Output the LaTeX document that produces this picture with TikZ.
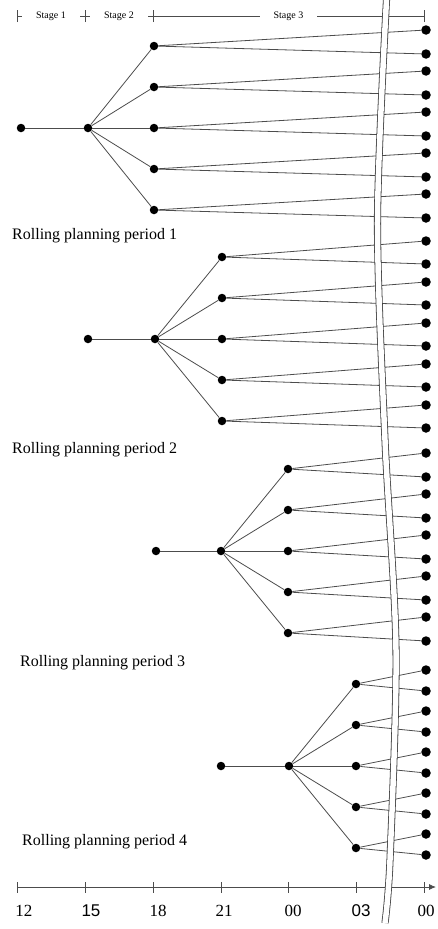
\documentclass[tikz,border=0pt]{standalone}
\usepackage{fontspec}
\setmainfont{Liberation Serif}
\setsansfont{Liberation Sans}
\usetikzlibrary{arrows.meta}

\begin{document}
\begin{tikzpicture}[x=1pt,y=-1pt]

\tikzset{vertex/.style = {shape=circle,fill,inner sep=0pt,minimum size=8.5pt}}
\tikzset{leaf/.style = {shape=circle,fill,inner sep=0pt,minimum size=9.5pt}}
\tikzset{edge/.style = {draw=black!70,line width=0.8pt}}
\tikzset{stagelbl/.style = {fill=white,inner xsep=14pt,inner ysep=1pt,font=\fontsize{10}{12}\selectfont}}
\tikzset{period/.style = {anchor=west,inner sep=0pt,font=\fontsize{16}{19}\selectfont}}
\tikzset{ticklbl/.style = {inner sep=0pt,font=\fontsize{17}{20}\selectfont}}

\useasboundingbox (0,0) rectangle (437,929);

%stages
\coordinate (s0) at (17,16);
\coordinate (s1) at (85,16);
\coordinate (s2) at (153,16);
\coordinate (s3) at (424,16);
\draw[edge] (s0) -- node[stagelbl] (st1) {Stage 1} (s1);
\draw[edge] (s1) -- node[stagelbl] (st2) {Stage 2} (s2);
\draw[edge] (s2) -- node[stagelbl] (st3) {Stage 3} (s3);
\foreach \s in {s0,s1,s2,s3}
  \draw[edge] ([yshift=-6pt]\s) -- ([yshift=6pt]\s);

%time axis
\coordinate (a0) at (17,887);
\coordinate (a1) at (436,887);
\draw[edge,-{Latex[length=7pt,width=6pt]}] (a0) -- (a1);
\foreach \x/\lx/\t [count=\i] in {17/24/12, 85/91/{\sffamily 15}, 153/158/18, 221/224/21, 288/293/00, 356/361/{\sffamily 03}, 424/426/00} {
  \draw[edge] (\x,882) -- (\x,893);
  \node[ticklbl] (t\i) at (\lx,911) {\t};
}

%trees
\foreach \p/\ra/\rb/\rc/\y/\up/\dw/\lx/\ly in {1/21/88/154/128/16/8/12/236, 2/88/155/222/339/16/7/12/450, 3/156/221/288/551/16/8/20/663, 4/221/289/356/766/14/7/22/842} {
  \node[vertex] (r\p) at (\ra,\y) {};
  \node[vertex] (m\p) at (\rb,\y) {};
  \draw[edge] (r\p) -- (m\p);
  \foreach \k in {1,...,5} {
    \pgfmathsetmacro{\cy}{\y+41*(\k-3)}
    \node[vertex] (c\p\k) at (\rc,\cy) {};
    \node[leaf] (u\p\k) at (426,\cy-\up) {};
    \node[leaf] (d\p\k) at (426,\cy+\dw) {};
    \draw[edge] (m\p) -- (c\p\k);
    \draw[edge] (c\p\k) -- (u\p\k);
    \draw[edge] (c\p\k) -- (d\p\k);
  }
  \node[period] (l\p) at (\lx,\ly) {Rolling planning period \p};
}

%break
\draw[black!75,line width=0.8pt,double=white,double distance=5.5pt]
  plot[smooth] coordinates {(386.5,0) (377.5,220) (385,440) (396,650) (390,860) (385,923)};

\end{tikzpicture}
\end{document}
